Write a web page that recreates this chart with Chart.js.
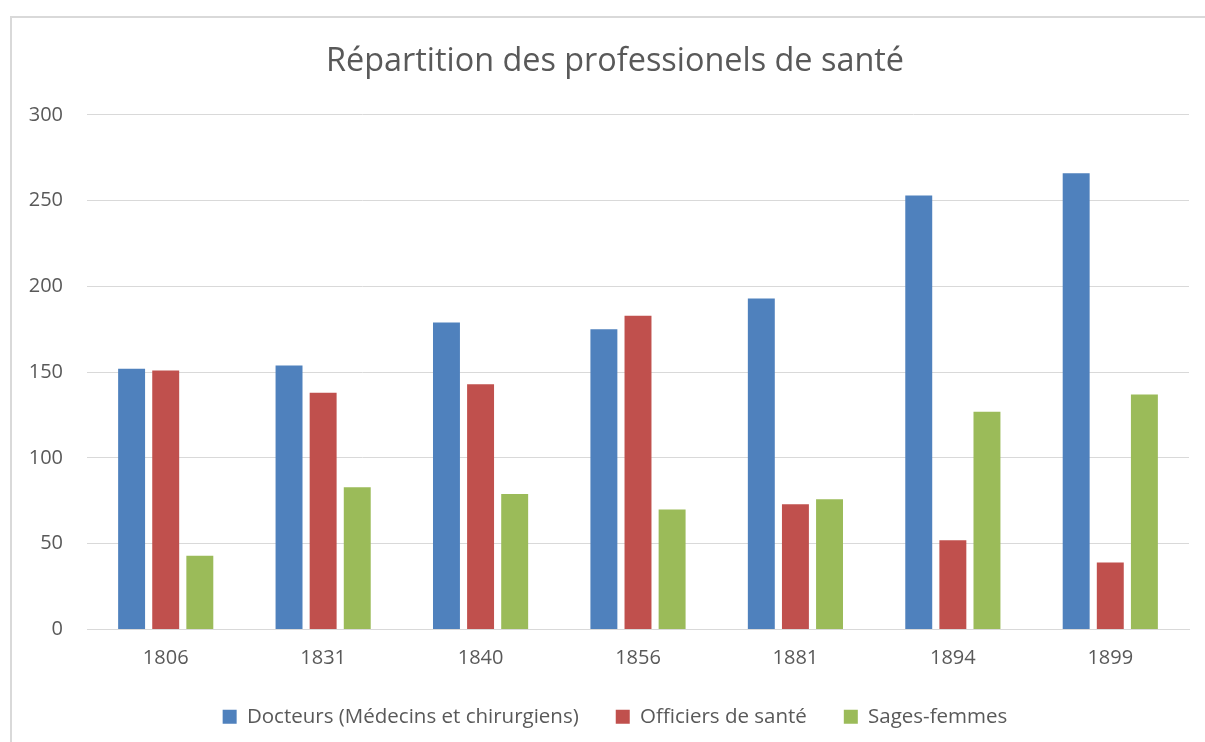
<!DOCTYPE html>
<html>
<head>
<meta charset="utf-8">
<script src="https://cdn.jsdelivr.net/npm/chart.js@4"></script>
<style>
  html,body{margin:0;padding:0;background:#fff;overflow:hidden}
  #frame{position:absolute;left:10px;top:16px;width:1220px;height:760px;border:2px solid #d9d9d9;box-sizing:border-box}
  #wrap{position:absolute;left:0;top:0;width:1205px;height:742px}
</style>
</head>
<body>
<div id="frame"></div>
<div id="wrap"><canvas id="chart" width="1205" height="742"></canvas></div>
<script>
// Répartition des professionnels de santé, by year
const years = ['1806','1831','1840','1856','1881','1894','1899'];
const docteurs = [152, 154, 179, 175, 193, 253, 266];
const officiers = [151, 138, 143, 183, 73, 52, 39];
const sagesFemmes = [43, 83, 79, 70, 76, 127, 137];
const yTicks = [0, 50, 100, 150, 200, 250, 300];

const TXT = '#595959';
const FONT = 'Open Sans';
const TICK_SIZE = 20;

// y labels are mirrored (so they are not clipped by the narrow axis box) and
// pulled back left of the plot; need the widest label to place them
const mctx = document.createElement('canvas').getContext('2d');
mctx.font = TICK_SIZE + 'px "' + FONT + '"';
const widestY = Math.max(...yTicks.map(v => mctx.measureText(String(v)).width));

const data = {
  labels: years,
  datasets: [
    {label:'Docteurs (Médecins et chirurgiens)', data:docteurs, backgroundColor:'#4F81BD'},
    {label:'Officiers de santé', data:officiers, backgroundColor:'#C0504D'},
    {label:'Sages-femmes', data:sagesFemmes, backgroundColor:'#9BBB59'}
  ]
};

new Chart(document.getElementById('chart'), {
  type:'bar',
  data,
  options:{
    responsive:false,
    animation:false,
    devicePixelRatio:1,
    datasets:{ bar:{ categoryPercentage:0.65, barPercentage:0.79 } },
    layout:{ padding:{ left:41, right:16, top:0, bottom:5 } },
    plugins:{
      title:{
        display:true,
        text:'Répartition des professionels de santé',
        color:TXT,
        font:{family:FONT, size:32.4, weight:'normal'},
        padding:{top:42.6, bottom:33.5}
      },
      legend:{
        position:'bottom',
        labels:{
          color:TXT, boxWidth:14, boxHeight:14, padding:37,
          font:{family:FONT, size:20.5}
        }
      },
      tooltip:{enabled:false}
    },
    scales:{
      x:{
        grid:{display:false, drawTicks:false},
        border:{display:true, color:'#d9d9d9', width:1},
        ticks:{color:TXT, font:{family:FONT, size:TICK_SIZE}, padding:17},
        afterFit:s=>{ s.height = 40; }
      },
      y:{
        min:0, max:300,
        afterBuildTicks:s=>{ s.ticks = yTicks.map(v=>({value:v})); },
        grid:{color:'#d9d9d9', lineWidth:1, drawTicks:false},
        border:{display:false},
        ticks:{color:TXT, font:{family:FONT, size:TICK_SIZE}, mirror:true, crossAlign:'far', padding:-24 - widestY},
        afterFit:s=>{ s.width = 46; }
      }
    }
  }
});
</script>
</body>
</html>
